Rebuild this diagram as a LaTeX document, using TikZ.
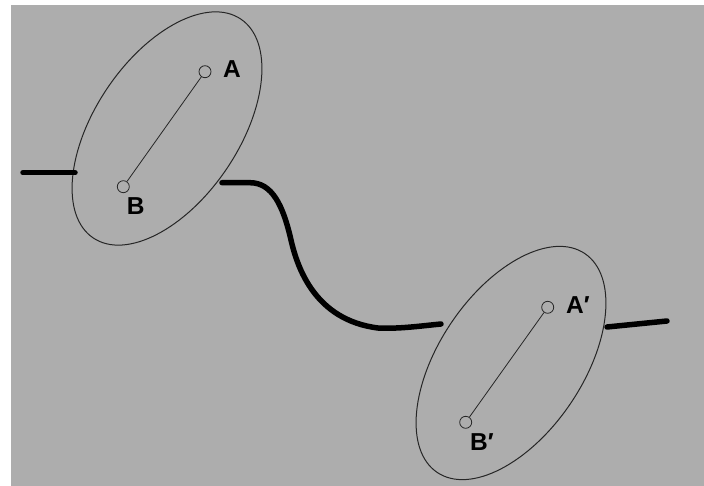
\documentclass[tikz,border=0pt]{standalone}
\usepackage{fontspec}
\setmainfont{Liberation Sans}
\usetikzlibrary{shapes.geometric}
\definecolor{panel}{RGB}{173,173,173}
\tikzset{
  body/.style={draw=black!85, line width=1pt, ellipse, inner sep=0pt,
    minimum width=264pt, minimum height=144pt, rotate=56},
  pin/.style={draw=black!85, line width=0.8pt, circle, inner sep=0pt, minimum size=12pt},
  rod/.style={draw=black!85, line width=0.8pt},
  cable/.style={draw=black, line width=5.5pt, line cap=round, line join=round},
  lab/.style={inner sep=0pt, anchor=base west, font=\fontsize{24.5pt}{24.5pt}\selectfont\bfseries}
}
\begin{document}
\begin{tikzpicture}[x=1pt,y=-1pt]
  % canvas
  \fill[white] (0,0) rectangle (704,486);
  \fill[panel] (11,5) rectangle (704,486);
  \useasboundingbox (0,0) rectangle (704,486);

  % the two bodies
  \node[body] (E1) at (167,128.5) {};
  \node[body] (E2) at (511,363) {};

  % points and the segments joining them
  \node[pin] (A)  at (205,71.7) {};
  \node[pin] (B)  at (123.3,186.7) {};
  \node[pin] (A2) at (547.7,307.3) {};
  \node[pin] (B2) at (465.7,422.3) {};
  \draw[rod] (A) -- (B);
  \draw[rod] (A2) -- (B2);

  \node[lab] (lA)  at (223,77.5) {A};
  \node[lab] (lB)  at (126.7,215) {B};
  \node[lab] (lA2) at (566,313.3) {A′};
  \node[lab] (lB2) at (470,450) {B′};

  % attachment points of the cable
  \coordinate (w0) at (23,172.7);
  \coordinate (w1) at (75,172.7);
  \coordinate (c0) at (222,182.7);
  \coordinate (c1) at (441,324);
  \coordinate (r0) at (607,327);
  \coordinate (r1) at (667,321);

  \draw[cable] (w0) -- (w1);
  \draw[cable] (c0) -- (250,182.7)
    .. controls (272,182.7) and (283,205) .. (291,240)
    .. controls (297,266) and (314,320) .. (378,328)
    .. controls (400,329) and (420,326) .. (c1);
  \draw[cable] (r0) -- (r1);
\end{tikzpicture}
\end{document}
